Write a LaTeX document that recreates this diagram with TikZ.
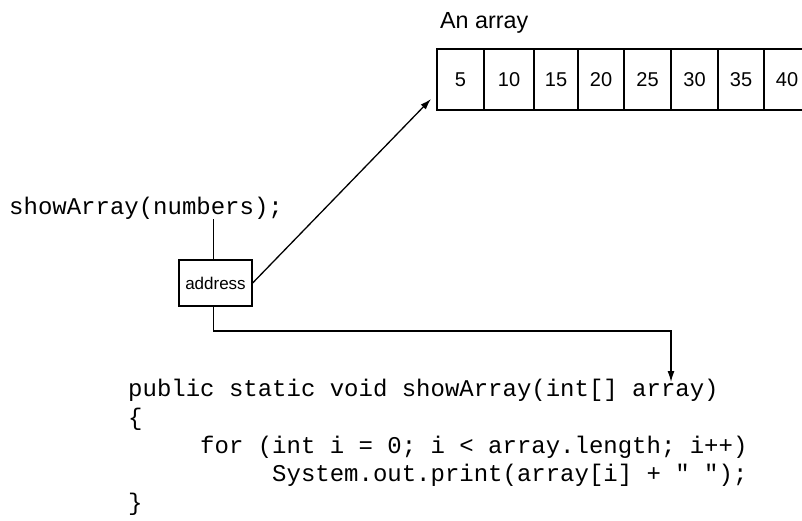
\documentclass[tikz,border=0pt]{standalone}
\usepackage{fontspec}
\usetikzlibrary{positioning,arrows.meta}
\newfontfamily\labelFont{Liberation Sans}
\newfontfamily\codeFont{Liberation Mono}[Ligatures=TeXOff]

\begin{document}
\begin{tikzpicture}[x=1pt, y=-1pt,
  cell/.style={draw, line width=1.3pt, outer sep=0pt, inner sep=0pt, minimum height=61pt, font=\labelFont\fontsize{20}{20}\selectfont},
  addrbox/.style={draw, line width=1.3pt, inner sep=0pt, minimum width=73pt, minimum height=46pt, font=\labelFont\fontsize{17}{17}\selectfont},
  code/.style={inner sep=0pt, anchor=base west, align=left, font=\codeFont\fontsize{24}{28.3}\selectfont},
  link/.style={line width=1.3pt},
  arrow/.style={-{Latex[length=11pt,width=7pt]}, line width=1.3pt}
]
  \path[use as bounding box, clip] (0,0) rectangle (802,520);

  % the array in memory
  \node[anchor=base west, inner sep=0pt, font=\labelFont\fontsize{23.3}{23.3}\selectfont] (title) at (440,28) {An array};
  \node[cell, minimum width=47pt, anchor=north west] (c1) at (437,49) {5};
  \node[cell, minimum width=50pt, right=0pt of c1] (c2) {10};
  \node[cell, minimum width=44pt, right=0pt of c2] (c3) {15};
  \node[cell, minimum width=46pt, right=0pt of c3] (c4) {20};
  \node[cell, minimum width=47pt, right=0pt of c4] (c5) {25};
  \node[cell, minimum width=47pt, right=0pt of c5] (c6) {30};
  \node[cell, minimum width=46pt, right=0pt of c6] (c7) {35};
  \node[cell, minimum width=46pt, right=0pt of c7] (c8) {40};

  % the call and the reference it passes
  \node[code] (call) at (9,214) {showArray(numbers);};
  \node[addrbox] (addr) at (215.5,283) {address};
  \coordinate (tap) at (213.5,219);
  \coordinate (aim) at (431,99);
  \coordinate (param) at (671,382);

  % the method that receives it (base = last line)
  \node[code] (method) at (128,510) {public static void showArray(int[] array)\\
    \{\\
    \hspace*{3em}for (int i = 0; i < array.length; i++)\\
    \hspace*{6em}System.out.print(array[i] + " ");\\
    \}};

  \draw[link] (tap) -- (tap |- addr.north);
  \draw[arrow] (addr.east) -- (aim);
  \draw[arrow] (tap |- addr.south) -- (tap |- 0,331) -| (param);
\end{tikzpicture}
\end{document}
